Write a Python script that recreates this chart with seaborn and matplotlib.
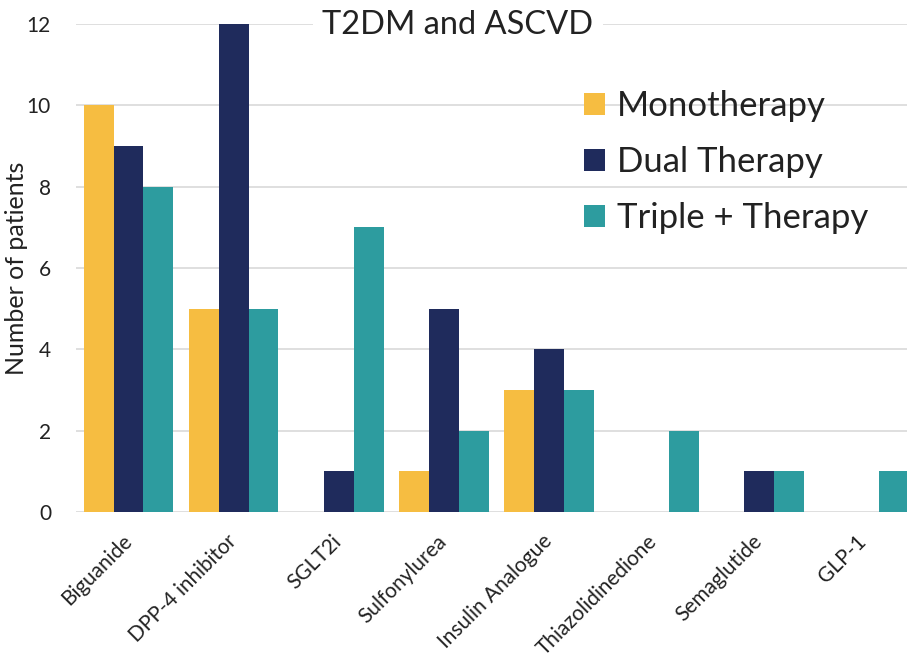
import matplotlib
matplotlib.use("Agg")
import matplotlib.pyplot as plt
from matplotlib.patches import Patch
import seaborn as sns
import pandas as pd

categories = ["Biguanide", "DPP-4 inhibitor", "SGLT2i", "Sulfonylurea",
              "Insulin Analogue", "Thiazolidinedione", "Semaglutide", "GLP-1"]
series_names = ["Monotherapy", "Dual Therapy", "Triple + Therapy"]
mono = [10, 5, 0, 1, 3, 0, 0, 0]
dual = [9, 12, 1, 5, 4, 0, 1, 0]
triple = [8, 5, 7, 2, 3, 2, 1, 1]
y_ticks = [0, 2, 4, 6, 8, 10, 12]
colors = ["#F6BD41", "#1F2B5C", "#2D9C9F"]

rows = []
for name, vals in zip(series_names, [mono, dual, triple]):
    for c, v in zip(categories, vals):
        rows.append({"Drug": c, "Therapy": name, "Patients": v})
df = pd.DataFrame(rows)

sns.set_theme(style="white")
plt.rcParams["font.family"] = ["Lato", "DejaVu Sans"]

fig = plt.figure(figsize=(9.07, 6.63), dpi=100)
ax = fig.add_axes([76/907, 151/663, 831/907, 488/663])

sns.barplot(data=df, x="Drug", y="Patients", hue="Therapy", order=categories,
            hue_order=series_names, palette=colors, saturation=1, width=0.857,
            ax=ax, errorbar=None, linewidth=0, legend=False, zorder=3)

ax.set_xlim(-0.5, 7.414)
ax.set_ylim(0, 12)
ax.set_yticks(y_ticks)
ax.yaxis.grid(True, color="#D9D9D9", linewidth=1.2, zorder=0)
ax.set_axisbelow(True)
for s in ax.spines.values():
    s.set_visible(False)
ax.tick_params(axis="both", length=0, labelsize=15, colors="#222222")
ax.tick_params(axis="y", pad=18)
ax.set_xlabel("")
ax.set_ylabel("")
plt.setp(ax.get_xticklabels(), rotation=45, ha="right", va="center",
         rotation_mode="anchor")
ax.tick_params(axis="x", pad=19)

fig.text(17/907, 1 - 268/663, "Number of patients", rotation=90,
         ha="center", va="center", fontsize=18, color="#222222")

fig.text(458/907, 1 - 25/663, "T2DM and ASCVD", ha="center", va="center",
         fontsize=23.5, color="#222222",
         bbox=dict(facecolor="white", edgecolor="none", pad=7))

handles = [Patch(facecolor=c, edgecolor="none") for c in colors]
fig.legend(handles, series_names, loc="upper left",
           bbox_to_anchor=(570/907, 1 - 76/663), frameon=False,
           fontsize=25, handlelength=0.6, handleheight=0.6,
           handletextpad=0.35, labelspacing=0.7, borderaxespad=0,
           labelcolor="#222222")

fig.savefig("out.png", dpi=100)
